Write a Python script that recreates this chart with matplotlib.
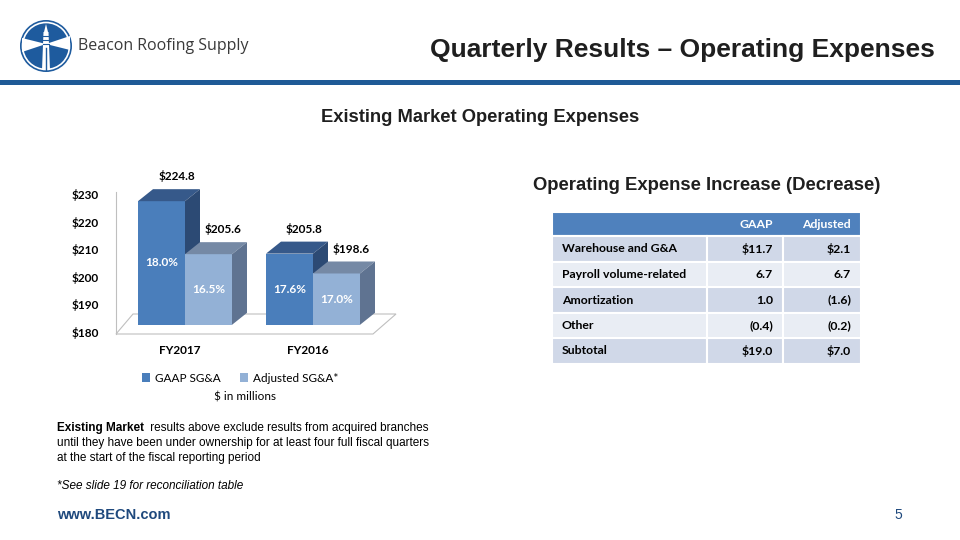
import matplotlib
matplotlib.use("Agg")
import matplotlib.pyplot as plt
from matplotlib.patches import Polygon, Rectangle, Circle

# chart data
years = ["FY2017", "FY2016"]
gaap_sga = [224.8, 205.8]
adj_sga = [205.6, 198.6]
gaap_pct = ["18.0%", "17.6%"]
adj_pct = ["16.5%", "17.0%"]
y_ticks = [180, 190, 200, 210, 220, 230]

# table data
row_names = ["Warehouse and G&A", "Payroll volume-related", "Amortization", "Other", "Subtotal"]
gaap_incr = [11.7, 6.7, 1.0, -0.4, 19.0]
adj_incr = [2.1, 6.7, -1.6, -0.2, 7.0]
dollar_rows = [0, 4]

CAL = "Lato"
ARIAL = "Liberation Sans"

fig = plt.figure(figsize=(9.6, 5.4), dpi=100)
bg = fig.add_axes([0, 0, 1, 1], zorder=0)
bg.set_xlim(0, 960)
bg.set_ylim(540, 0)
bg.axis("off")

# ---- header ----
bg.add_patch(Rectangle((0, 80), 960, 5, color="#1F5A96", lw=0))
bg.add_patch(Circle((46, 46), 26, color="#1E5B9E", lw=0))
bg.add_patch(Circle((46, 46), 23.5, fill=False, ec="white", lw=1.2))
bg.add_patch(Polygon([(46, 44), (22, 38), (22, 52)], color="white", lw=0))
bg.add_patch(Polygon([(46, 44), (70, 36), (70, 50)], color="white", lw=0))
bg.add_patch(Polygon([(42, 70), (50, 70), (48.5, 32), (43.5, 32)], color="white", lw=0))
bg.add_patch(Polygon([(44, 32), (48, 32), (46, 24)], color="white", lw=0))
for yy in (36, 40, 44):
    bg.plot([43, 49], [yy, yy], color="#1E5B9E", lw=0.8)
bg.plot([46, 46], [48, 70], color="#1E5B9E", lw=1.0)
bg.text(78, 46, "Beacon Roofing Supply", fontsize=11.5, family="Open Sans",
        color="#3A3A3A", va="center", ha="left")
bg.text(935, 50, "Quarterly Results \u2013 Operating Expenses", fontsize=19,
        family=ARIAL, weight="bold", color="#1F1F1F", va="center", ha="right")

bg.text(480, 117, "Existing Market Operating Expenses", fontsize=13.2,
        family=ARIAL, weight="bold", color="#1F1F1F", va="center", ha="center")
bg.text(707, 185, "Operating Expense Increase (Decrease)", fontsize=13.3,
        family=ARIAL, weight="bold", color="#1F1F1F", va="center", ha="center")

# ---- table ----
col_x = [552, 707, 783, 861]
row_y = [212, 236, 262, 287, 313, 338, 364]
fills = ["#D0D8E8", "#E9EDF4"]
tfs = 8.8
bg.add_patch(Rectangle((col_x[0], row_y[0]), col_x[-1] - col_x[0], row_y[1] - row_y[0],
                       fc="#4F81BD", ec="white", lw=1.5))
bg.text(col_x[2] - 10, (row_y[0] + row_y[1]) / 2, "GAAP", fontsize=tfs, family=CAL,
        weight="bold", color="white", ha="right", va="center")
bg.text(col_x[3] - 10, (row_y[0] + row_y[1]) / 2, "Adjusted", fontsize=tfs, family=CAL,
        weight="bold", color="white", ha="right", va="center")


def fmt(v, dollar):
    s = f"({abs(v):.1f})" if v < 0 else f"{v:.1f}"
    return "$" + s if dollar else s


for i, name in enumerate(row_names):
    y0, y1 = row_y[i + 1], row_y[i + 2]
    for c in range(3):
        bg.add_patch(Rectangle((col_x[c], y0), col_x[c + 1] - col_x[c], y1 - y0,
                               fc=fills[i % 2], ec="white", lw=1.5))
    ym = (y0 + y1) / 2
    d = i in dollar_rows
    bg.text(col_x[0] + 10, ym, name, fontsize=tfs, family=CAL, weight="bold",
            color="black", ha="left", va="center")
    bg.text(col_x[2] - 10, ym, fmt(gaap_incr[i], d), fontsize=tfs, family=CAL,
            weight="bold", color="black", ha="right", va="center")
    bg.text(col_x[3] - 10, ym, fmt(adj_incr[i], d), fontsize=tfs, family=CAL,
            weight="bold", color="black", ha="right", va="center")

# ---- footnotes ----
ffs = 8.5
b = bg.text(57, 428, "Existing Market", fontsize=ffs, family=ARIAL, weight="bold",
            color="black", ha="left", va="center")
fig.canvas.draw()
bb = b.get_window_extent().transformed(bg.transData.inverted())
bg.text(bb.x1 + 3, 428, " results above exclude results from acquired branches",
        fontsize=ffs, family=ARIAL, color="black", ha="left", va="center")
bg.text(57, 443, "until they have been under ownership for at least four full fiscal quarters",
        fontsize=ffs, family=ARIAL, color="black", ha="left", va="center")
bg.text(57, 458, "at the start of the fiscal reporting period",
        fontsize=ffs, family=ARIAL, color="black", ha="left", va="center")
bg.text(57, 486, "*See slide 19 for reconciliation table", fontsize=ffs, family=ARIAL,
        style="italic", color="black", ha="left", va="center")
bg.text(57, 515, "www.BECN.com", fontsize=10.5, family=ARIAL, weight="bold",
        color="#1F497D", ha="left", va="center")
bg.text(898, 515, "5", fontsize=10, family=ARIAL, color="#1F497D",
        ha="center", va="center")

# ---- 3D-looking bar chart ----
px_left, px_right, px_top, px_bot = 100, 420, 150, 345
ax = fig.add_axes([px_left / 960, 1 - px_bot / 540, (px_right - px_left) / 960,
                   (px_bot - px_top) / 540], zorder=2)
ax.patch.set_alpha(0)
ppu = 2.76          # pixels per $ unit
gap = 128.0         # pixels between groups
ax.set_xlim((px_left - 185) / gap, (px_right - 185) / gap)
ax.set_ylim(180 - (px_bot - 332) / ppu, 180 + (332 - px_top) / ppu)
for s in ax.spines.values():
    s.set_visible(False)

w = 47 / gap
dx = 15 / gap
dy = 12 / ppu
lift = 2.6
base = 180 + lift

# floor and wall line
fl_front = 180 - 2 / ppu
fl_back = 180 + 18 / ppu
ax.add_patch(Polygon([((116 - 185) / gap, fl_front), ((373 - 185) / gap, fl_front),
                      ((396 - 185) / gap, fl_back), ((133 - 185) / gap, fl_back)],
                     closed=True, fc="white", ec="#BFBFBF", lw=0.8, zorder=1))
ax.plot([(116 - 185) / gap] * 2, [fl_front, 180 + 140 / ppu], color="#BFBFBF",
        lw=0.8, zorder=1)

gaap_cols = ("#4A7EBB", "#36598A", "#2C4A74")
adj_cols = ("#93B1D6", "#7589A5", "#5F7391")
xs = list(range(len(years)))

for series, cols, off, name in ((gaap_sga, gaap_cols, -w, "GAAP SG&A"),
                                (adj_sga, adj_cols, 0.0, "Adjusted SG&A*")):
    x0s = [x + off for x in xs]
    ax.bar(x0s, [v - 180 for v in series], bottom=base, width=w, align="edge",
           color=cols[0], label=name, zorder=3)
    for x0, v in zip(x0s, series):
        top = v + lift
        ax.add_patch(Polygon([(x0, top), (x0 + w, top), (x0 + w + dx, top + dy),
                              (x0 + dx, top + dy)], closed=True, fc=cols[1],
                             lw=0, zorder=3))
        ax.add_patch(Polygon([(x0 + w, base), (x0 + w + dx, base + dy),
                              (x0 + w + dx, top + dy), (x0 + w, top)], closed=True,
                             fc=cols[2], lw=0, zorder=3))
        ax.annotate(f"${v:.1f}", (x0 + w / 2 + dx, top + dy), xytext=(0, 5),
                    textcoords="offset points", ha="center", va="bottom",
                    fontsize=8.5, family=CAL, weight="bold", color="black", zorder=4)

for x, v, p in zip(xs, gaap_sga, gaap_pct):
    ax.text(x - w / 2, (base + v + lift) / 2, p, ha="center", va="center",
            fontsize=8.5, family=CAL, weight="bold", color="white", zorder=4)
for x, v, p in zip(xs, adj_sga, adj_pct):
    ax.text(x + w / 2, (base + v + lift) / 2, p, ha="center", va="center",
            fontsize=8.5, family=CAL, weight="bold", color="white", zorder=4)

ax.set_yticks(y_ticks)
ax.set_yticklabels([f"${t}" for t in y_ticks], family=CAL, weight="bold", fontsize=8.5)
ax.set_xticks([x - 5 / gap for x in xs])
ax.set_xticklabels(years, family=CAL, weight="bold", fontsize=8.5)
ax.tick_params(axis="y", length=0, pad=1)
ax.tick_params(axis="x", length=0, pad=0)

fig.legend(loc="center", bbox_to_anchor=(240 / 960, 1 - 378 / 540), ncol=2,
           frameon=False, handlelength=0.7, handleheight=0.7, handletextpad=0.4,
           columnspacing=1.6, prop={"family": CAL, "size": 8.5})
bg.text(245, 397, "$ in millions", fontsize=8.5, family=CAL, color="black",
        ha="center", va="center")

fig.savefig("out.png", dpi=100)
